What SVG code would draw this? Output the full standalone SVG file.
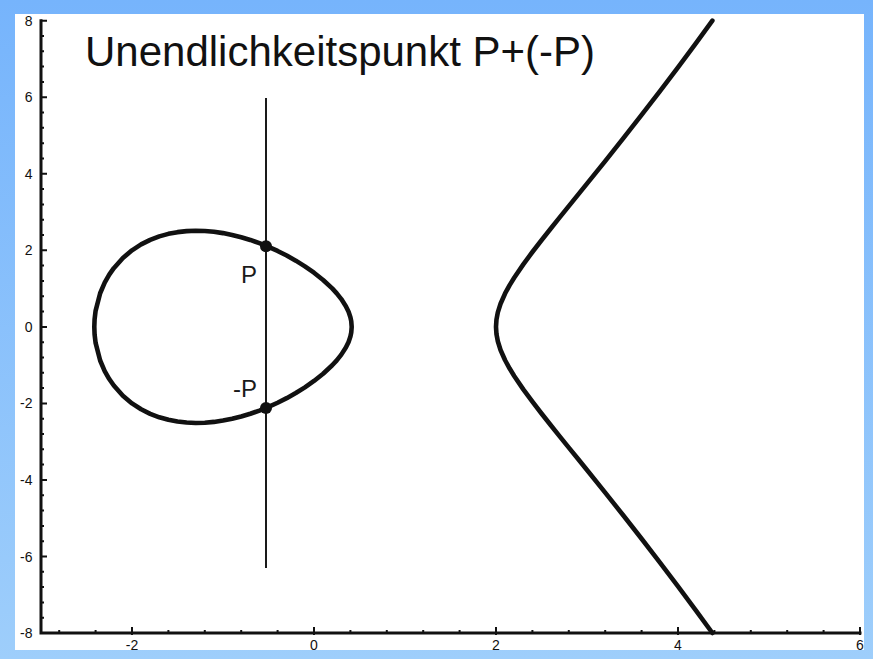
<svg xmlns="http://www.w3.org/2000/svg" width="873" height="659" viewBox="0 0 873 659">
  <defs>
    <linearGradient id="bg" x1="0" y1="0" x2="0" y2="1">
      <stop offset="0" stop-color="#76b4fc"/>
      <stop offset="1" stop-color="#9ecefb"/>
    </linearGradient>
    <style>
      .axis{stroke:#111;stroke-width:3;fill:none;stroke-linecap:square}
      .tick{stroke:#111;stroke-width:2;fill:none}
      .tl{font-family:"Liberation Sans",Arial,sans-serif;font-size:14px;fill:#111}
      .curve{stroke:#111;stroke-width:4.6;fill:none;stroke-linejoin:round;stroke-linecap:round}
      .vline{stroke:#1a1a1a;stroke-width:2;fill:none}
      .pt{fill:#111}
      .lbl{font-family:"Liberation Sans",Arial,sans-serif;font-size:24px;fill:#1a1a1a}
      .title{font-family:"Liberation Sans",Arial,sans-serif;font-size:42px;fill:#111}
    </style>
  </defs>
  <rect x="0" y="0" width="873" height="659" fill="url(#bg)"/>
  <rect x="15" y="14" width="849" height="636" fill="#ffffff"/>

  <g id="axes">
    <path class="axis" d="M41 20.7 V633 H860"/>
    <path class="tick" d="M41 20.7h6M41 36h3M41 51.3h3M41 66.6h3M41 81.9h3M41 97.2h6M41 112.5h3M41 127.8h3M41 143.2h3M41 158.5h3M41 173.8h6M41 189.1h3M41 204.4h3M41 219.7h3M41 235h3M41 250.3h6M41 265.6h3M41 280.9h3M41 296.2h3M41 311.5h3M41 326.9h6M41 342.2h3M41 357.5h3M41 372.8h3M41 388.1h3M41 403.4h6M41 418.7h3M41 434h3M41 449.3h3M41 464.6h3M41 479.9h6M41 495.2h3M41 510.5h3M41 525.9h3M41 541.2h3M41 556.5h6M41 571.8h3M41 587.1h3M41 602.4h3M41 617.7h3"/>
    <path class="tick" d="M59.2 633v-3M95.6 633v-3M132 635v-8M168.4 633v-3M204.8 633v-3M241.2 633v-3M277.6 633v-3M314 635v-8M350.4 633v-3M386.8 633v-3M423.2 633v-3M459.6 633v-3M496 635v-8M532.4 633v-3M568.8 633v-3M605.2 633v-3M641.6 633v-3M678 635v-8M714.4 633v-3M750.8 633v-3M787.2 633v-3M823.6 633v-3M860 635v-8"/>
    <g class="tl" text-anchor="end">
      <text x="32.5" y="25.7">8</text>
      <text x="32.5" y="102.2">6</text>
      <text x="32.5" y="178.8">4</text>
      <text x="32.5" y="255.3">2</text>
      <text x="32.5" y="331.9">0</text>
      <text x="32.5" y="408.4">-2</text>
      <text x="32.5" y="484.9">-4</text>
      <text x="32.5" y="561.5">-6</text>
      <text x="32.5" y="638">-8</text>
    </g>
    <g class="tl" text-anchor="middle">
      <text x="132" y="650">-2</text>
      <text x="314" y="650">0</text>
      <text x="496" y="650">2</text>
      <text x="678" y="650">4</text>
      <text x="860" y="650">6</text>
    </g>
  </g>

  <g id="curve-oval">
    <path class="curve" d="M94.31 326.85 L94.6 319.2 L95.6 310.8 L100.15 293.23 L104.7 282.66 L109.25 274.67 L113.8 268.16 L122.9 257.98 L132 250.31 L141.1 244.41 L150.2 239.85 L159.3 236.39 L168.4 233.86 L177.5 232.14 L186.6 231.13 L195.7 230.77 L204.8 231.01 L213.9 231.79 L223 233.11 L232.1 234.91 L241.2 237.2 L250.3 239.94 L259.4 243.15 L268.5 246.8 L277.6 250.93 L286.7 255.53 L295.8 260.65 L304.9 266.35 L314 272.73 L323.1 279.96 L332.2 288.43 L336.75 293.36 L341.3 299.07 L345.85 306.14 L348.58 311.79 L350.4 317.17 L351.24 321.11 L351.69 326.85 L351.24 332.59 L350.4 336.53 L348.58 341.91 L345.85 347.56 L341.3 354.63 L336.75 360.34 L332.2 365.27 L323.1 373.74 L314 380.97 L304.9 387.35 L295.8 393.05 L286.7 398.17 L277.6 402.77 L268.5 406.9 L259.4 410.55 L250.3 413.76 L241.2 416.5 L232.1 418.79 L223 420.59 L213.9 421.91 L204.8 422.69 L195.7 422.93 L186.6 422.57 L177.5 421.56 L168.4 419.84 L159.3 417.31 L150.2 413.85 L141.1 409.29 L132 403.39 L122.9 395.72 L113.8 385.54 L109.25 379.03 L104.7 371.04 L100.15 360.47 L95.6 342.9 L94.6 334.5 Z"/>
  </g>

  <g id="curve-branch">
    <path class="curve" d="M712.38 20.69 L696.2 42.81 L678 67.29 L659.8 91.34 L641.6 114.96 L623.4 138.18 L605.2 161.06 L587 183.66 L577.9 194.89 L568.8 206.12 L559.7 217.37 L550.6 228.71 L541.5 240.21 L532.4 252.01 L523.3 264.35 L514.2 277.72 L509.65 285.13 L505.1 293.46 L500.55 303.72 L497.82 312.41 L496.46 319.67 L496 326.85 L496.46 334.03 L497.82 341.29 L500.55 349.98 L505.1 360.24 L509.65 368.57 L514.2 375.98 L523.3 389.35 L532.4 401.69 L541.5 413.49 L550.6 424.99 L559.7 436.33 L568.8 447.58 L577.9 458.81 L587 470.04 L605.2 492.64 L623.4 515.52 L641.6 538.74 L659.8 562.36 L678 586.41 L696.2 610.89 L712.38 633.01"/>
  </g>

  <g id="vertical-line">
    <line class="vline" x1="266" y1="98" x2="266" y2="568"/>
  </g>

  <g id="point-P">
    <circle class="pt" cx="266" cy="246.3" r="6"/>
    <text class="lbl" x="257" y="283" text-anchor="end">P</text>
  </g>

  <g id="point-minusP">
    <circle class="pt" cx="266" cy="408" r="6"/>
    <text class="lbl" x="257" y="397" text-anchor="end">-P</text>
  </g>

  <g id="title">
    <text class="title" x="85" y="66">Unendlichkeitspunkt P+(-P)</text>
  </g>
</svg>
